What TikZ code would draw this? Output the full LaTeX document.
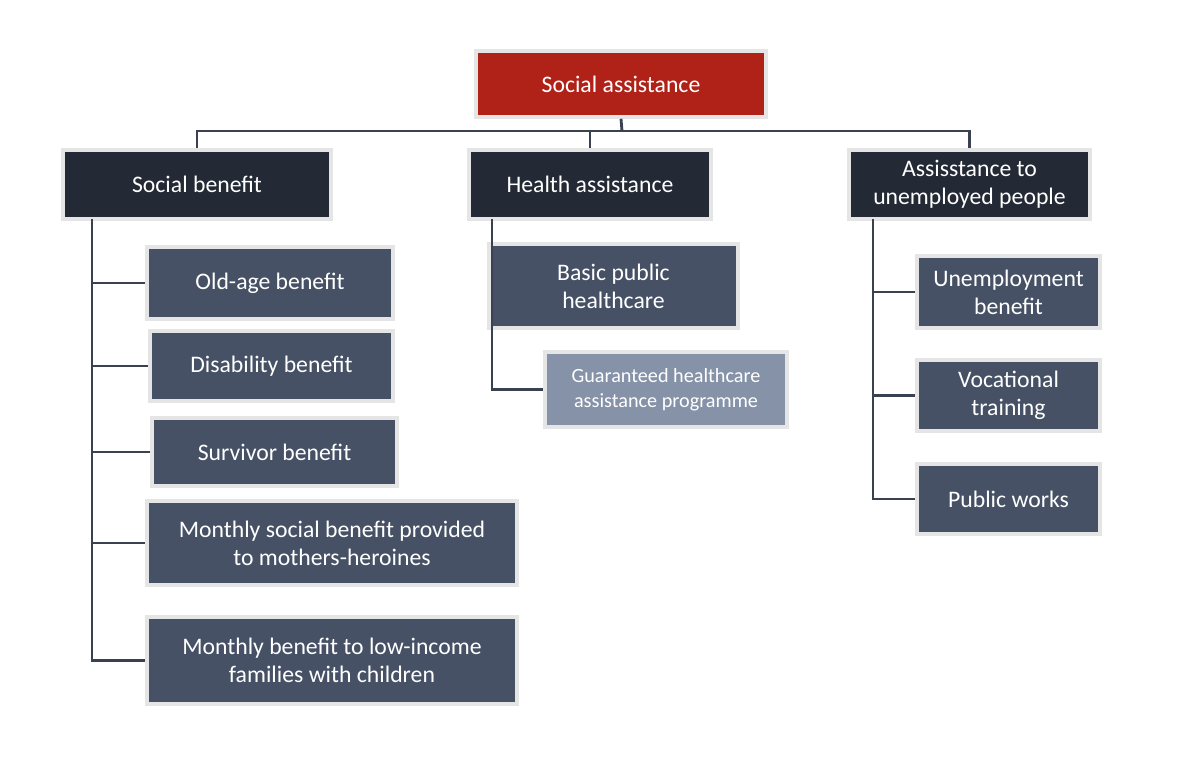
\documentclass[tikz,border=0pt]{standalone}
\usepackage{fontspec}
\setmainfont{Carlito}
\definecolor{topred}{HTML}{B02218}
\definecolor{headdark}{HTML}{232935}
\definecolor{itemslate}{HTML}{465165}
\definecolor{itemlight}{HTML}{8592A8}
\definecolor{linkgray}{HTML}{3A4150}
\tikzset{
  box/.style={draw=gray!20,line width=2pt,text=white,align=center,inner sep=2pt,
    font=\fontsize{13.5}{16}\selectfont},
  topbox/.style={box,fill=topred},
  headbox/.style={box,fill=headdark},
  itembox/.style={box,fill=itemslate},
  lightbox/.style={box,fill=itemlight,font=\fontsize{11.5}{14}\selectfont},
  link/.style={draw=linkgray,line width=1.6pt}
}
\newcommand{\boxat}[6]{% style, name, x1, y1, x2, y2
  \node[#1,minimum width=(#5-#3)*0.02cm,minimum height=(#6-#4)*0.02cm] (#2) at ({(#3+#5)/2},{(#4+#6)/2})}
\begin{document}
\begin{tikzpicture}[x=0.02cm,y=-0.02cm]
\useasboundingbox (0,0) rectangle (1198,758);
% top level
\boxat{topbox}{top}{476}{51}{766}{117}{Social assistance};
\boxat{headbox}{social}{63}{150}{331}{219}{Social benefit};
\boxat{headbox}{health}{469}{150}{711}{219}{Health assistance};
\boxat{headbox}{unemp}{849}{150}{1090}{219}{Assisstance to\\unemployed people};
% social benefit items
\boxat{itembox}{oldage}{147}{247}{393}{319}{Old-age benefit};
\boxat{itembox}{disab}{150}{331}{393}{401}{Disability benefit};
\boxat{itembox}{surv}{152}{418}{397}{486}{Survivor benefit};
\boxat{itembox}{mothers}{147}{501}{517}{585}{Monthly social benefit provided\\to mothers-heroines};
\boxat{itembox}{lowinc}{147}{617}{517}{704}{Monthly benefit to low-income\\families with children};
% health items
\boxat{itembox}{basic}{489}{244}{738}{328}{Basic public\\healthcare};
\boxat{lightbox}{guar}{545}{352}{787}{427}{Guaranteed healthcare\\assistance programme};
% unemployment items
\boxat{itembox}{ubenefit}{917}{256}{1100}{328}{Unemployment\\benefit};
\boxat{itembox}{vocat}{917}{360}{1100}{431}{Vocational\\training};
\boxat{itembox}{works}{917}{464}{1100}{534}{Public works};
% connectors
\coordinate (hub) at (622,131);
\draw[link] (top.south) -- (hub);
\draw[link] (social.north) |- (hub) -| (unemp.north);
\draw[link] (health.north) |- (hub);
\draw[link] (92,219) |- (lowinc.west);
\foreach \n in {oldage,disab,surv,mothers}
  \draw[link] (92,0 |- \n.west) -- (\n.west);
\draw[link] (492,219) |- (guar.west);
\draw[link] (873,219) |- (works.west);
\foreach \n in {ubenefit,vocat}
  \draw[link] (873,0 |- \n.west) -- (\n.west);
\end{tikzpicture}
\end{document}
